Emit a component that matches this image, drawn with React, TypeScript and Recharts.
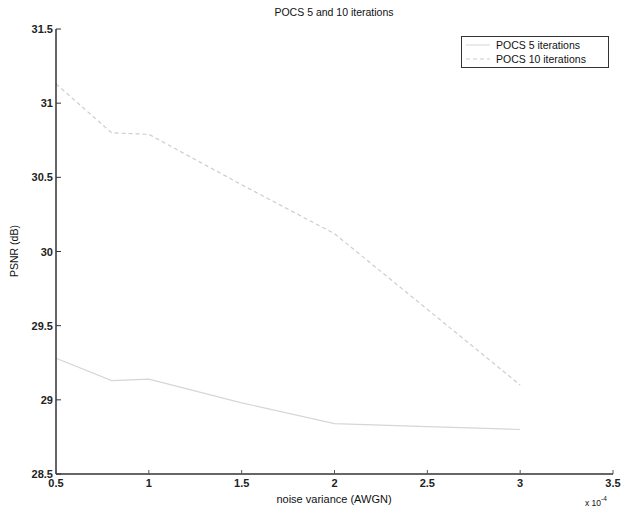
import React from 'react';
import { LineChart, Line, XAxis, YAxis } from 'recharts';

const noiseVar = [0.5, 0.8, 1, 1.5, 2, 2.5, 3];
const pocs5 = [29.28, 29.13, 29.14, 28.98, 28.84, 28.82, 28.8];
const pocs10 = [31.13, 30.8, 30.79, 30.45, 30.12, 29.61, 29.1];
const xTicks = [0.5, 1, 1.5, 2, 2.5, 3, 3.5];
const yTicks = [28.5, 29, 29.5, 30, 30.5, 31, 31.5];
const seriesNames = ['POCS 5 iterations', 'POCS 10 iterations'];

const data = noiseVar.map((x, i) => ({ x, p5: pocs5[i], p10: pocs10[i] }));

const font = '"Liberation Sans", Arial, sans-serif';
const c5 = '#d6d6d6';
const c10 = '#cdcdcd';

const YTick = (props: any) => {
    const { x, y, payload } = props;
    return (
        <g>
            <line x1={x + 4} x2={x + 9} y1={y} y2={y} stroke="#333" strokeWidth={1} />
            <text x={x + 1} y={y} dy={4} textAnchor="end" fontSize={11} fontWeight={700} fill="#222" fontFamily={font}>
                {payload.value}
            </text>
        </g>
    );
};

const XTick = (props: any) => {
    const { x, y, payload } = props;
    return (
        <g>
            <line x1={x} x2={x} y1={y} y2={y - 4} stroke="#555" strokeWidth={1} />
            <text x={x} y={y + 13} textAnchor="middle" fontSize={11} fontWeight={700} fill="#222" fontFamily={font}>
                {payload.value}
            </text>
        </g>
    );
};

const LegendBox = () => (
    <div style={{ position: 'absolute', top: 36, left: 461, border: '1px solid #333', background: '#fff', width: 146, padding: '1px 0', fontFamily: font, fontSize: 10.5, color: '#111' }}>
        {[
            { label: seriesNames[0], color: c5, dash: undefined },
            { label: seriesNames[1], color: c10, dash: '4 3' },
        ].map((item) => (
            <div key={item.label} style={{ display: 'flex', alignItems: 'center', height: 14 }}>
                <svg width={30} height={10} style={{ marginLeft: 2 }}>
                    <line x1={2} x2={26} y1={5} y2={5} stroke={item.color} strokeDasharray={item.dash} />
                </svg>
                <span style={{ marginLeft: 2 }}>{item.label}</span>
            </div>
        ))}
    </div>
);

const App: React.FC = () => {
    return (
        <div style={{ position: 'fixed', top: 0, left: 0, width: 623, height: 510, background: '#fff' }}>
            <LineChart width={623} height={510} data={data} margin={{ top: 29, right: 10, bottom: 0, left: 16 }}>
                <text x={334} y={16} textAnchor="middle" fontSize={10.5} fill="#111" fontFamily={font}>
                    POCS 5 and 10 iterations
                </text>
                <XAxis
                    dataKey="x"
                    type="number"
                    domain={[0.5, 3.5]}
                    ticks={xTicks}
                    height={36}
                    tickSize={0}
                    tickMargin={0}
                    tick={<XTick />}
                    tickLine={false}
                    axisLine={{ stroke: '#333', strokeWidth: 1.5 }}
                    interval={0}
                />
                <YAxis
                    type="number"
                    domain={[28.5, 31.5]}
                    ticks={yTicks}
                    width={40}
                    tickSize={0}
                    tickMargin={4}
                    tick={<YTick />}
                    tickLine={false}
                    axisLine={{ stroke: '#333', strokeWidth: 1.5 }}
                    interval={0}
                />
                <Line dataKey="p5" name={seriesNames[0]} stroke={c5} strokeWidth={1.2} dot={false} isAnimationActive={false} />
                <Line dataKey="p10" name={seriesNames[1]} stroke={c10} strokeWidth={1.2} strokeDasharray="4 3" dot={false} isAnimationActive={false} />
                <text x={18} y={251} transform="rotate(-90 18 251)" textAnchor="middle" fontSize={10.5} fill="#111" fontFamily={font}>
                    PSNR (dB)
                </text>
                <text x={334} y={503} textAnchor="middle" fontSize={11} fill="#111" fontFamily={font}>
                    noise variance (AWGN)
                </text>
                <text x={585} y={506} fontSize={8.5} fill="#111" fontFamily={font}>
                    x 10
                    <tspan dy={-5} fontSize={6.5}>-4</tspan>
                </text>
            </LineChart>
            <LegendBox />
        </div>
    );
};

export default App;
